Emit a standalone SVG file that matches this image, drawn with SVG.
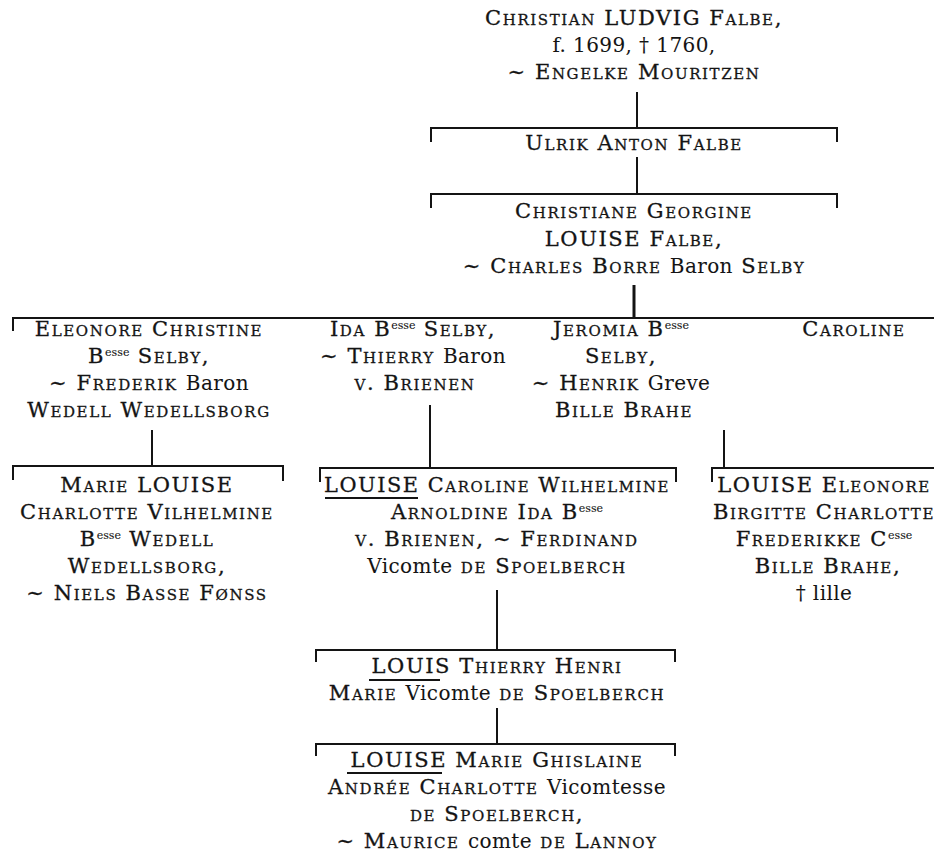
<svg xmlns="http://www.w3.org/2000/svg" width="934" height="852" viewBox="0 0 934 852">
<style>
.t{font-family:"DejaVu Serif","Liberation Serif",serif;font-size:21px;font-variant:small-caps;text-anchor:middle;fill:#141414;stroke:#141414;stroke-width:0.3;letter-spacing:1.6px}
.n{font-variant:normal;letter-spacing:0.4px;font-size:20px;stroke-width:0.05}
.s{font-variant:normal;letter-spacing:0;font-size:11px;stroke-width:0.1}
.ln{stroke:#141414;stroke-width:2;fill:none}
.ul{stroke:#141414;stroke-width:1.8}
</style>
<rect width="934" height="852" fill="#fff"/>
<g id="connectors" class="ln">
<path d="M637,92 V128"/>
<path d="M431,142 V128 H837 V142"/>
<path d="M637,157 V194"/>
<path d="M431,208 V194 H837 V208"/>
<path d="M634,285 V318" stroke-width="3"/>
<path d="M13,331 V318 H934"/>
<path d="M152,430 V466"/>
<path d="M13,480 V466 H283 V481"/>
<path d="M430,405 V468"/>
<path d="M320,482 V468 H676 V482"/>
<path d="M724,430 V468"/>
<path d="M712,482 V468 H934"/>
<path d="M497,590 V650"/>
<path d="M316,662 V650 H675 V662"/>
<path d="M497,708 V744"/>
<path d="M316,756 V744 H675 V756"/>
</g>
<g id="christian-ludvig">
<text class="t" x="634" y="25">Christian LUDVIG Falbe,</text>
<text class="t" x="634" y="52"><tspan class="n">f. 1699, † 1760,</tspan></text>
<text class="t" x="634" y="79">~ Engelke Mouritzen</text>
</g>
<g id="ulrik-anton">
<text class="t" x="634" y="150">Ulrik Anton Falbe</text>
</g>
<g id="christiane-georgine">
<text class="t" x="634" y="218">Christiane Georgine</text>
<text class="t" x="634" y="246">LOUISE Falbe,</text>
<text class="t" x="634" y="273">~ Charles Borre <tspan class="n">Baron</tspan> Selby</text>
</g>
<g id="eleonore-christine">
<text class="t" x="149" y="336">Eleonore Christine</text>
<text class="t" x="149" y="363">B<tspan class="s" dy="-7">esse</tspan><tspan dy="7"> Selby,</tspan></text>
<text class="t" x="149" y="390">~ Frederik <tspan class="n">Baron</tspan></text>
<text class="t" x="149" y="417">Wedell Wedellsborg</text>
</g>
<g id="ida">
<text class="t" x="413" y="336">Ida B<tspan class="s" dy="-7">esse</tspan><tspan dy="7"> Selby,</tspan></text>
<text class="t" x="413" y="363">~ Thierry <tspan class="n">Baron</tspan></text>
<text class="t" x="415" y="390">v. Brienen</text>
</g>
<g id="jeromia">
<text class="t" x="621" y="336">Jeromia B<tspan class="s" dy="-7">esse</tspan></text>
<text class="t" x="621" y="363">Selby,</text>
<text class="t" x="621" y="390">~ Henrik <tspan class="n">Greve</tspan></text>
<text class="t" x="624" y="417">Bille Brahe</text>
</g>
<g id="caroline">
<text class="t" x="854" y="336">Caroline</text>
</g>
<g id="marie-louise">
<text class="t" x="147" y="492">Marie LOUISE</text>
<text class="t" x="147" y="519">Charlotte Vilhelmine</text>
<text class="t" x="147" y="546">B<tspan class="s" dy="-7">esse</tspan><tspan dy="7"> Wedell</tspan></text>
<text class="t" x="147" y="573">Wedellsborg,</text>
<text class="t" x="147" y="600">~ Niels Basse Fønss</text>
</g>
<g id="louise-caroline">
<text class="t" x="497" y="492" letter-spacing="0" textLength="346" lengthAdjust="spacingAndGlyphs">LOUISE Caroline Wilhelmine</text>
<line class="ul" x1="325" y1="498" x2="418" y2="498"/>
<text class="t" x="497" y="519">Arnoldine Ida B<tspan class="s" dy="-7">esse</tspan></text>
<text class="t" x="497" y="546">v. Brienen, ~ Ferdinand</text>
<text class="t" x="497" y="573"><tspan class="n">Vicomte</tspan> de Spoelberch</text>
</g>
<g id="louise-eleonore" letter-spacing="1.0">
<text class="t" x="824" y="492" letter-spacing="1.0">LOUISE Eleonore</text>
<text class="t" x="824" y="519" letter-spacing="0.9">Birgitte Charlotte</text>
<text class="t" x="824" y="546" letter-spacing="1.0">Frederikke C<tspan class="s" dy="-7">esse</tspan></text>
<text class="t" x="828" y="573" letter-spacing="1.2">Bille Brahe,</text>
<text class="t" x="824" y="600"><tspan class="n">† lille</tspan></text>
</g>
<g id="louis-thierry">
<text class="t" x="497" y="673">LOUIS Thierry Henri</text>
<line class="ul" x1="369" y1="680" x2="440" y2="680"/>
<text class="t" x="497" y="700">Marie <tspan class="n">Vicomte</tspan> de Spoelberch</text>
</g>
<g id="louise-marie">
<text class="t" x="497" y="767">LOUISE Marie Ghislaine</text>
<line class="ul" x1="347" y1="773" x2="442" y2="773"/>
<text class="t" x="497" y="794">Andrée Charlotte <tspan class="n">Vicomtesse</tspan></text>
<text class="t" x="497" y="821">de Spoelberch,</text>
<text class="t" x="497" y="848">~ Maurice <tspan class="n">comte</tspan> de Lannoy</text>
</g>
</svg>
